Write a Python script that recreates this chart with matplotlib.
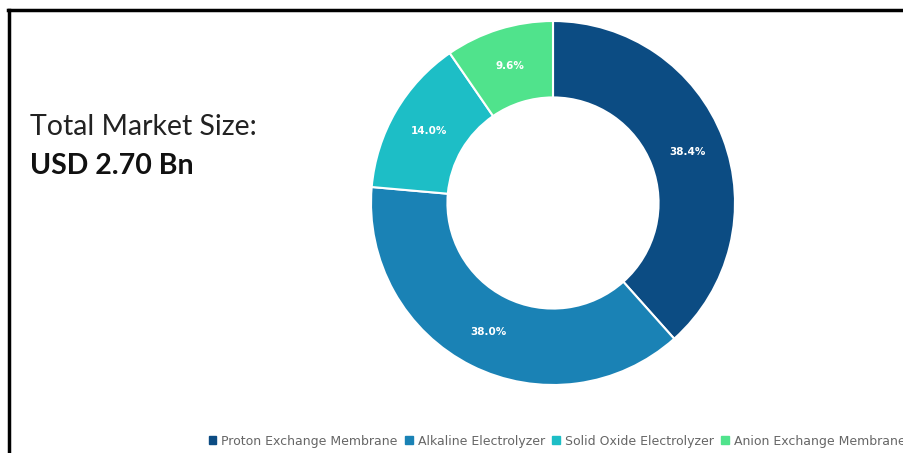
import matplotlib.pyplot as plt
from matplotlib.lines import Line2D
from matplotlib.patches import Patch

segments = ["Proton Exchange Membrane", "Alkaline Electrolyzer",
            "Solid Oxide Electrolyzer", "Anion Exchange Membrane"]
shares = [38.4, 38.0, 14.0, 9.6]
colors = ["#0C4C83", "#1A82B5", "#1DBEC6", "#50E38C"]

W, H = 904, 453
fig = plt.figure(figsize=(W / 100, H / 100), dpi=100)
fig.patch.set_facecolor("white")

# donut axes: centre (553, 203) px, radius 182 px
cx, cy, r = 553, 203, 182
ax = fig.add_axes([(cx - r) / W, (H - cy - r) / H, 2 * r / W, 2 * r / H])
wedges, texts, autotexts = ax.pie(
    shares, colors=colors, startangle=90, counterclock=False,
    autopct="%.1f%%", pctdistance=0.79,
    wedgeprops=dict(width=0.42, edgecolor="white", linewidth=1.5),
    textprops=dict(color="white", fontsize=7.5, fontweight="bold"))
ax.set_xlim(-1, 1)
ax.set_ylim(-1, 1)
ax.set_aspect("auto")
ax.axis("off")

fig.text(30 / W, 1 - 127 / H, "Total Market Size:", fontsize=20.5,
         color="#222222", va="center", ha="left", family="Lato")
fig.text(30 / W, 1 - 166 / H, "USD 2.70 Bn", fontsize=20.5, fontweight="bold",
         color="#111111", va="center", ha="left", family="Lato")

handles = [Patch(facecolor=c, edgecolor=c) for c in colors]
fig.legend(handles, segments, loc="center", bbox_to_anchor=(557 / W, 1 - 441 / H),
           ncol=4, frameon=False, fontsize=9, handlelength=0.6, handleheight=0.6,
           handletextpad=0.4, columnspacing=0.6, labelcolor="#666666")

# black frame on left and top
fig.add_artist(Line2D([9 / W, 9 / W], [0, 1 - 10 / H], color="black", lw=2.5,
                      transform=fig.transFigure))
fig.add_artist(Line2D([8 / W, 1], [1 - 10 / H, 1 - 10 / H], color="black", lw=2.5,
                      transform=fig.transFigure))

fig.savefig("out.png", dpi=100)
